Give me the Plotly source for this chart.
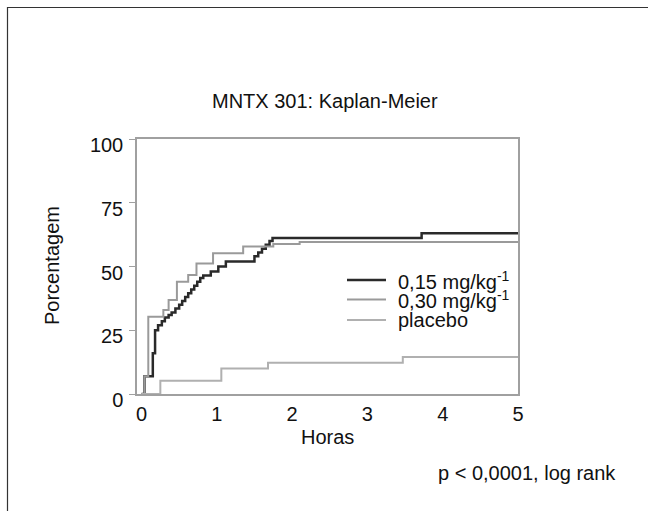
import plotly.graph_objects as go

# ---- data ----
series_names = ["0,15 mg/kg<sup>-1</sup>", "0,30 mg/kg<sup>-1</sup>", "placebo"]

hours_015 = [0, 0.04, 0.15, 0.18, 0.22, 0.27, 0.31, 0.36, 0.40, 0.45, 0.50, 0.54, 0.58,
             0.62, 0.66, 0.70, 0.74, 0.78, 0.82, 0.92, 1.02, 1.12, 1.50, 1.55, 1.60,
             1.65, 1.70, 1.74, 3.72, 5.0]
pct_015 = [0, 7, 16, 25, 27, 28.5, 30, 31, 32, 33.5, 35, 36.5, 38,
           39.5, 41, 42.5, 44, 45.5, 46.5, 48, 50, 52, 54, 55.5, 57,
           58.5, 60, 61.2, 63, 63]

hours_030 = [0, 0.04, 0.09, 0.29, 0.36, 0.47, 0.62, 0.73, 0.95, 1.35, 1.75, 2.1, 5.0]
pct_030 = [0, 7, 30.3, 32.9, 36.9, 44, 46.7, 51.2, 55.2, 57.8, 58.8, 59.6, 59.6]

hours_plac = [0, 0.25, 1.06, 1.68, 3.47, 5.0]
pct_plac = [0, 5.2, 10, 12.3, 14.5, 14.5]

x_ticks = [0, 1, 2, 3, 4, 5]
y_ticks = [0, 25, 50, 75, 100]

colors = ["#2a2a2a", "#9a9a9a", "#b0b0b0"]
widths = [2.5, 2, 2]

FONT = "Liberation Sans, Arial, sans-serif"

fig = go.Figure()
for xs, ys, c, w, n in zip([hours_015, hours_030, hours_plac],
                           [pct_015, pct_030, pct_plac],
                           colors, widths, series_names):
    fig.add_trace(go.Scatter(x=xs, y=ys, mode="lines", line_shape="hv",
                             line=dict(color=c, width=w), name=n, showlegend=False))

W, H = 648, 511
L, R, T, B = 137, 130, 139, 117
pw, ph = W - L - R, H - T - B

def px2paper(x, y):
    return (x - L) / pw, (H - B - y) / ph

annotations = []
shapes = []

# manual legend
leg_rows = [280, 299.5, 320]
for name, c, w, yy in zip(series_names, colors, widths, leg_rows):
    x0, y0 = px2paper(347, yy)
    x1, _ = px2paper(386, yy)
    shapes.append(dict(type="line", xref="paper", yref="paper", x0=x0, x1=x1, y0=y0, y1=y0,
                       line=dict(color=c, width=w)))
    tx, ty = px2paper(396, yy)
    annotations.append(dict(text=name, xref="paper", yref="paper", x=tx, y=ty,
                            xanchor="left", yanchor="middle", showarrow=False,
                            font=dict(size=20, color="#111", family=FONT)))

# title & axis titles & note
for txt, (xx, yy), rot in [("MNTX 301: Kaplan-Meier", (325, 101), 0),
                           ("Porcentagem", (52, 266), -90),
                           ("Horas", (327, 437), 0),
                           ("p < 0,0001, log rank", (527, 473), 0)]:
    ax, ay = px2paper(xx, yy)
    annotations.append(dict(text=txt, xref="paper", yref="paper", x=ax, y=ay,
                            xanchor="center", yanchor="middle", showarrow=False,
                            textangle=rot, font=dict(size=20, color="#111", family=FONT)))

# outer frame (left & top edges visible)
fx0, fy0 = px2paper(7.5, 7.5)
fx1, fy1 = px2paper(W + 5, H + 5)
shapes.append(dict(type="rect", xref="paper", yref="paper", x0=fx0, x1=fx1, y0=fy1, y1=fy0,
                   line=dict(color="#333", width=1.2)))

fig.update_layout(
    width=W, height=H,
    margin=dict(l=L, r=R, t=T, b=B, pad=0),
    paper_bgcolor="white", plot_bgcolor="white",
    font=dict(family=FONT, size=20, color="#111"),
    xaxis=dict(range=[-0.06, 5.0], tickvals=x_ticks, ticks="", showgrid=False,
               zeroline=False, showline=True, linecolor="#a0a0a0", linewidth=1.5,
               mirror=True, tickfont=dict(size=20), ticklabelstandoff=1),
    yaxis=dict(range=[0, 100], tickvals=y_ticks, ticks="outside", ticklen=6,
               tickcolor="#a0a0a0", showgrid=False, zeroline=False, showline=True,
               linecolor="#a0a0a0", linewidth=1.5, mirror=True,
               tickfont=dict(size=20), ticklabelshift=6, ticklabelstandoff=2),
    annotations=annotations, shapes=shapes,
)

fig.write_html("out.html")
